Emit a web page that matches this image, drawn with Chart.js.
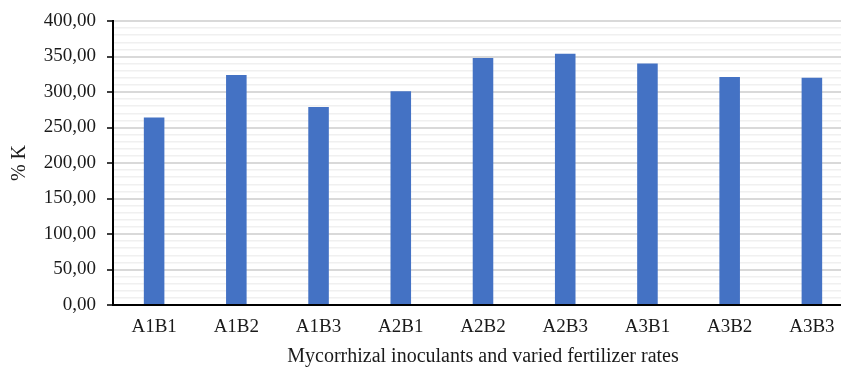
<!DOCTYPE html>
<html>
<head>
<meta charset="utf-8">
<script src="https://cdn.jsdelivr.net/npm/chart.js@4.4.0/dist/chart.umd.min.js"></script>
<style>
  html, body { margin: 0; padding: 0; background: #fff; overflow: hidden; }
  #wrap { width: 853px; height: 369px; position: relative; }
</style>
</head>
<body>
<div id="wrap"><canvas id="c"></canvas></div>
<script>
const categories = ["A1B1", "A1B2", "A1B3", "A2B1", "A2B2", "A2B3", "A3B1", "A3B2", "A3B3"];
const potassiumValues = [264, 324, 279, 301, 348, 354, 340, 321, 320];
const yTickMax = 400;
const yMajorStep = 50;
const yMinorStep = 10;
const yAxisTitle = "% K";
const xAxisTitle = "Mycorrhizal inoculants and varied fertilizer rates";

const FONT = "'Liberation Serif', 'Times New Roman', serif";
const isMajor = v => Math.abs(v % yMajorStep) < 1e-6;

new Chart(document.getElementById('c'), {
  type: 'bar',
  data: {
    labels: categories,
    datasets: [{
      data: potassiumValues,
      backgroundColor: '#4472C4',
      borderWidth: 0,
      barPercentage: 0.25,
      categoryPercentage: 1.0
    }]
  },
  options: {
    responsive: true,
    maintainAspectRatio: false,
    animation: false,
    layout: { padding: { top: 21, left: 0, right: 0, bottom: 0 } },
    plugins: { legend: { display: false }, tooltip: { enabled: false } },
    scales: {
      x: {
        offset: true,
        grid: { display: false, drawTicks: false },
        border: { display: true, color: '#000', width: 2 },
        ticks: { color: '#1a1a1a', font: { family: FONT, size: 19 }, padding: 11, maxRotation: 0 },
        title: { display: true, text: xAxisTitle, color: '#1a1a1a', font: { family: FONT, size: 20 }, padding: { top: 2, bottom: 0 } },
        afterFit: s => { s.height = 64; s.paddingLeft = 0; s.paddingRight = 0; }
      },
      y: {
        min: 0,
        max: yTickMax,
        ticks: {
          stepSize: yMinorStep,
          autoSkip: false,
          maxTicksLimit: 100,
          color: '#1a1a1a',
          font: { family: FONT, size: 19 },
          padding: 11,
          callback: v => isMajor(v) ? v.toFixed(2).replace('.', ',') : ''
        },
        grid: {
          color: ctx => isMajor(ctx.tick.value) ? '#d9d9d9' : '#f0f0f0',
          lineWidth: ctx => isMajor(ctx.tick.value) ? 2 : 1.5,
          tickColor: ctx => isMajor(ctx.tick.value) ? '#000' : 'rgba(0,0,0,0)',
          tickLength: 6,
          tickWidth: 1.5
        },
        border: { display: true, color: '#000', width: 2 },
        title: { display: true, text: yAxisTitle, color: '#1a1a1a', font: { family: FONT, size: 20 }, padding: { top: 8, bottom: 0 } },
        afterFit: s => { s.width = 113; s.paddingTop = 0; s.paddingBottom = 0; }
      }
    }
  }
});
</script>
</body>
</html>
